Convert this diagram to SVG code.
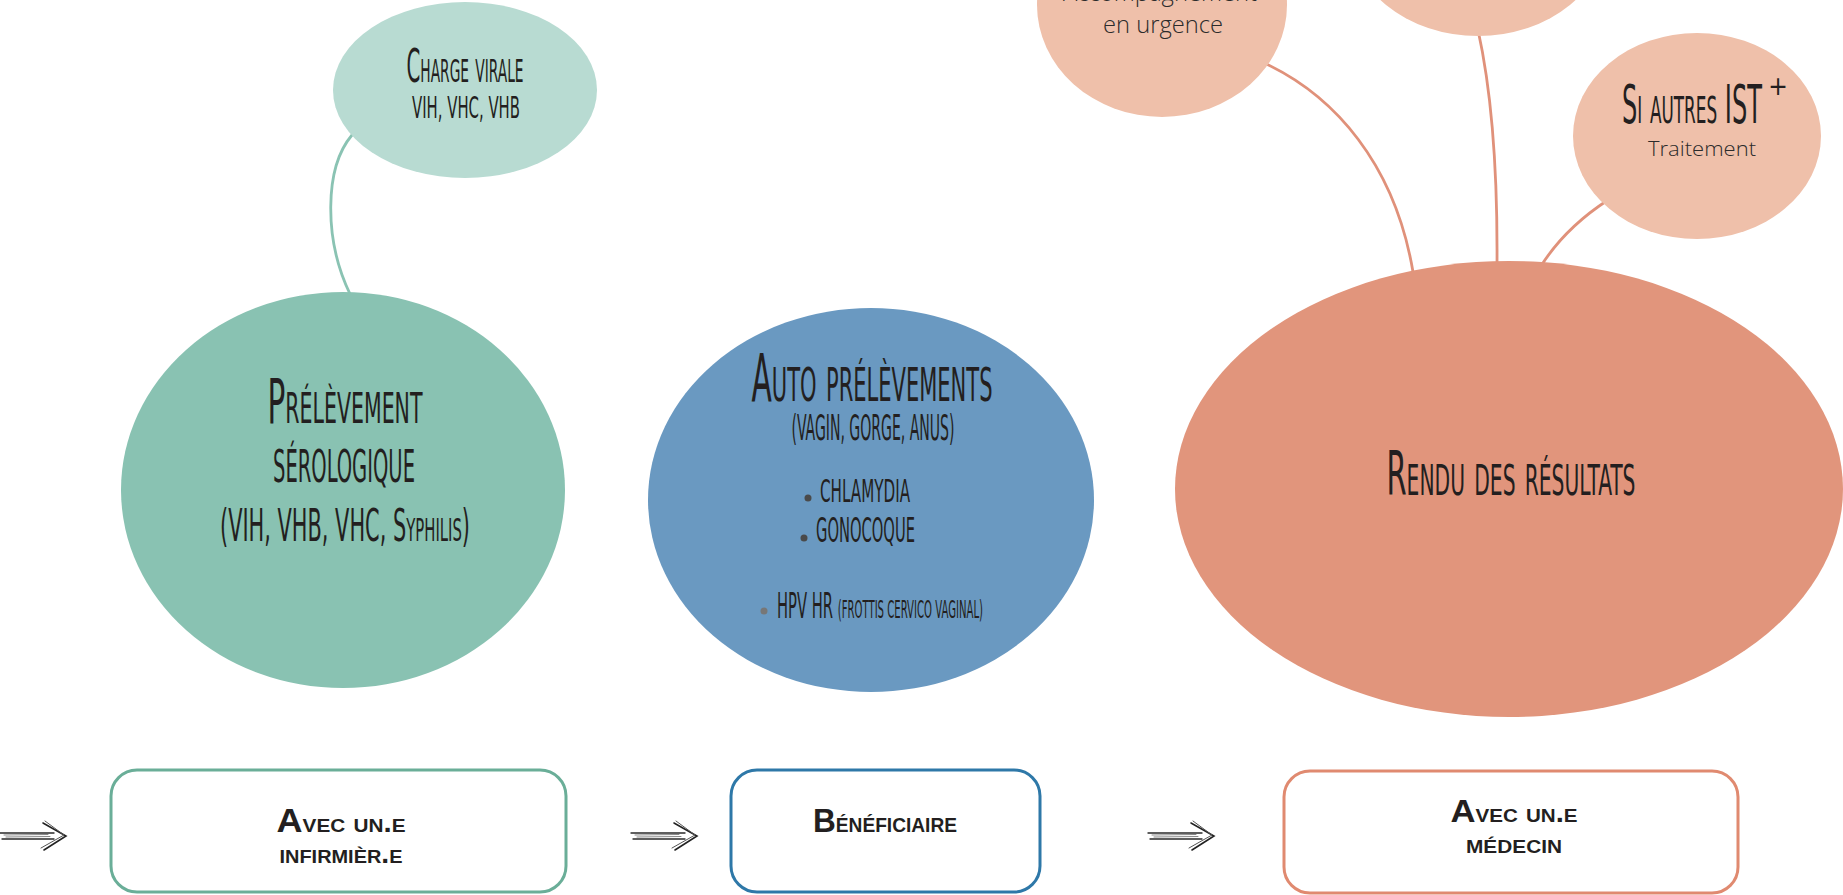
<svg xmlns="http://www.w3.org/2000/svg" width="1843" height="895" viewBox="0 0 1843 895">
<style>
.deco{font-family:"Liberation Sans Narrow","DejaVu Sans Condensed","Liberation Sans",sans-serif;font-variant:small-caps;fill:#231f20;}
.body{font-family:"Open Sans","DejaVu Sans",sans-serif;font-weight:300;fill:#2b2b2b;}
.box{font-family:"Liberation Sans","DejaVu Sans",sans-serif;font-weight:bold;font-variant:small-caps;fill:#231f20;}
.conn{fill:none;stroke-width:2.8;stroke-linecap:round;}
.sal{stroke:#e0917a;}
.grn{stroke:#8ac3b3;}
.card{fill:#fff;stroke-width:3;}
</style>
<defs>
<g id="arrow" fill="none" stroke-linecap="round">
<path d="M-66,-3 L-12,-3" stroke="#2a2a2a" stroke-width="1.4"/>
<path d="M-64,3 L-12,3" stroke="#2a2a2a" stroke-width="1.4"/>
<path d="M-62,-1 L-18,-1.5 M-60,1 L-16,0.5" stroke="#888" stroke-width="1"/>
<path d="M-23,-13 L0,0 L-22,14" stroke="#222" stroke-width="1.6"/>
<path d="M-21,-15 L-2,-1 L-25,12" stroke="#555" stroke-width="1"/>
</g>
</defs>
<rect width="1843" height="895" fill="#fff"/>

<g id="connectors">
<path class="conn grn" d="M352,135 C324,168 324,240 350,294"/>
<path class="conn sal" d="M1262,62 C1335,95 1395,165 1413,272"/>
<path class="conn sal" d="M1478,30 Q1498,120 1497,264"/>
<path class="conn sal" d="M1608,200 Q1565,228 1541,266"/>
</g>

<g id="arrows">
<use href="#arrow" x="66" y="836"/>
<use href="#arrow" x="697" y="836"/>
<use href="#arrow" x="1214" y="836"/>
</g>

<g id="node-charge-virale">
<ellipse cx="465" cy="90" rx="132" ry="88" fill="#b8dbd2"/>
<text class="deco" x="465" y="82" font-size="46" text-anchor="middle" textLength="117" lengthAdjust="spacingAndGlyphs">Charge virale</text>
<text class="deco" x="466" y="118" font-size="31" text-anchor="middle" textLength="108" lengthAdjust="spacingAndGlyphs">VIH, VHC, VHB</text>
</g>

<g id="node-prelevement">
<ellipse cx="343" cy="490" rx="222" ry="198" fill="#89c2b2"/>
<text class="deco" x="345" y="423" font-size="62" text-anchor="middle" textLength="155" lengthAdjust="spacingAndGlyphs">Prélèvement</text>
<text class="deco" x="344" y="482" font-size="64" text-anchor="middle" textLength="142" lengthAdjust="spacingAndGlyphs">sérologique</text>
<text class="deco" x="345" y="541" font-size="45" text-anchor="middle" textLength="250" lengthAdjust="spacingAndGlyphs">(VIH, VHB, VHC, Syphilis)</text>
</g>

<g id="node-auto">
<ellipse cx="871" cy="500" rx="223" ry="192" fill="#6a99c1"/>
<text class="deco" x="872" y="401" font-size="65" text-anchor="middle" textLength="241" lengthAdjust="spacingAndGlyphs">Auto prélèvements</text>
<text class="deco" x="873" y="440" font-size="35" text-anchor="middle" textLength="163" lengthAdjust="spacingAndGlyphs">(VAGIN, GORGE, ANUS)</text>
<circle cx="808" cy="498" r="3.5" fill="#4a4a4a"/>
<text class="deco" x="820" y="502" font-size="32" textLength="90" lengthAdjust="spacingAndGlyphs">CHLAMYDIA</text>
<circle cx="804" cy="538" r="3.5" fill="#4a4a4a"/>
<text class="deco" x="816" y="542" font-size="34" textLength="99" lengthAdjust="spacingAndGlyphs">GONOCOQUE</text>
<circle cx="764" cy="611" r="3.5" fill="#777"/>
<text class="deco" x="777" y="618" textLength="206" lengthAdjust="spacingAndGlyphs"><tspan font-size="35">HPV HR </tspan><tspan font-size="24">(FROTTIS CERVICO VAGINAL)</tspan></text>
</g>

<g id="node-accompagnement">
<ellipse cx="1162" cy="5" rx="125" ry="112" fill="#efc0aa"/>
<text class="body" x="1160" y="1" font-size="23" text-anchor="middle" textLength="194" lengthAdjust="spacingAndGlyphs">Accompagnement</text>
<text class="body" x="1163" y="33" font-size="23" text-anchor="middle" textLength="120" lengthAdjust="spacingAndGlyphs">en urgence</text>
</g>

<g id="node-top-middle">
<ellipse cx="1478" cy="-70" rx="130" ry="106" fill="#efc0aa"/>
</g>

<g id="node-autres-ist">
<ellipse cx="1697" cy="136" rx="124" ry="103" fill="#efc0aa"/>
<text class="deco" x="1622" y="123" font-size="53" textLength="140" lengthAdjust="spacingAndGlyphs">Si autres IST</text>
<text class="deco" x="1778" y="95" font-size="26" text-anchor="middle">+</text>
<text class="body" x="1702" y="156" font-size="21" text-anchor="middle" textLength="108" lengthAdjust="spacingAndGlyphs">Traitement</text>
</g>

<g id="node-rendu">
<ellipse cx="1509" cy="489" rx="334" ry="228" fill="#e1957c"/>
<text class="deco" x="1511" y="495" font-size="60" text-anchor="middle" textLength="249" lengthAdjust="spacingAndGlyphs">Rendu des résultats</text>
</g>

<g id="box-infirmier">
<rect class="card" x="111" y="770" width="455" height="122" rx="26" stroke="#6aae98"/>
<text class="box" x="341" y="832" text-anchor="middle" textLength="129" lengthAdjust="spacingAndGlyphs"><tspan font-size="33">A</tspan><tspan font-size="27">vec un.e</tspan></text>
<text class="box" x="341" y="863" font-size="27" text-anchor="middle" textLength="123" lengthAdjust="spacingAndGlyphs">infirmièr.e</text>
</g>

<g id="box-beneficiaire">
<rect class="card" x="731" y="770" width="309" height="122" rx="26" stroke="#2e78a8"/>
<text class="box" x="885" y="832" text-anchor="middle" textLength="144" lengthAdjust="spacingAndGlyphs"><tspan font-size="33">B</tspan><tspan font-size="29">énéficiaire</tspan></text>
</g>

<g id="box-medecin">
<rect class="card" x="1284" y="771" width="454" height="122" rx="26" stroke="#e08a70"/>
<text class="box" x="1514" y="822" text-anchor="middle" textLength="127" lengthAdjust="spacingAndGlyphs"><tspan font-size="32">A</tspan><tspan font-size="27">vec un.e</tspan></text>
<text class="box" x="1514" y="853" font-size="27" text-anchor="middle" textLength="96" lengthAdjust="spacingAndGlyphs">médecin</text>
</g>
</svg>
